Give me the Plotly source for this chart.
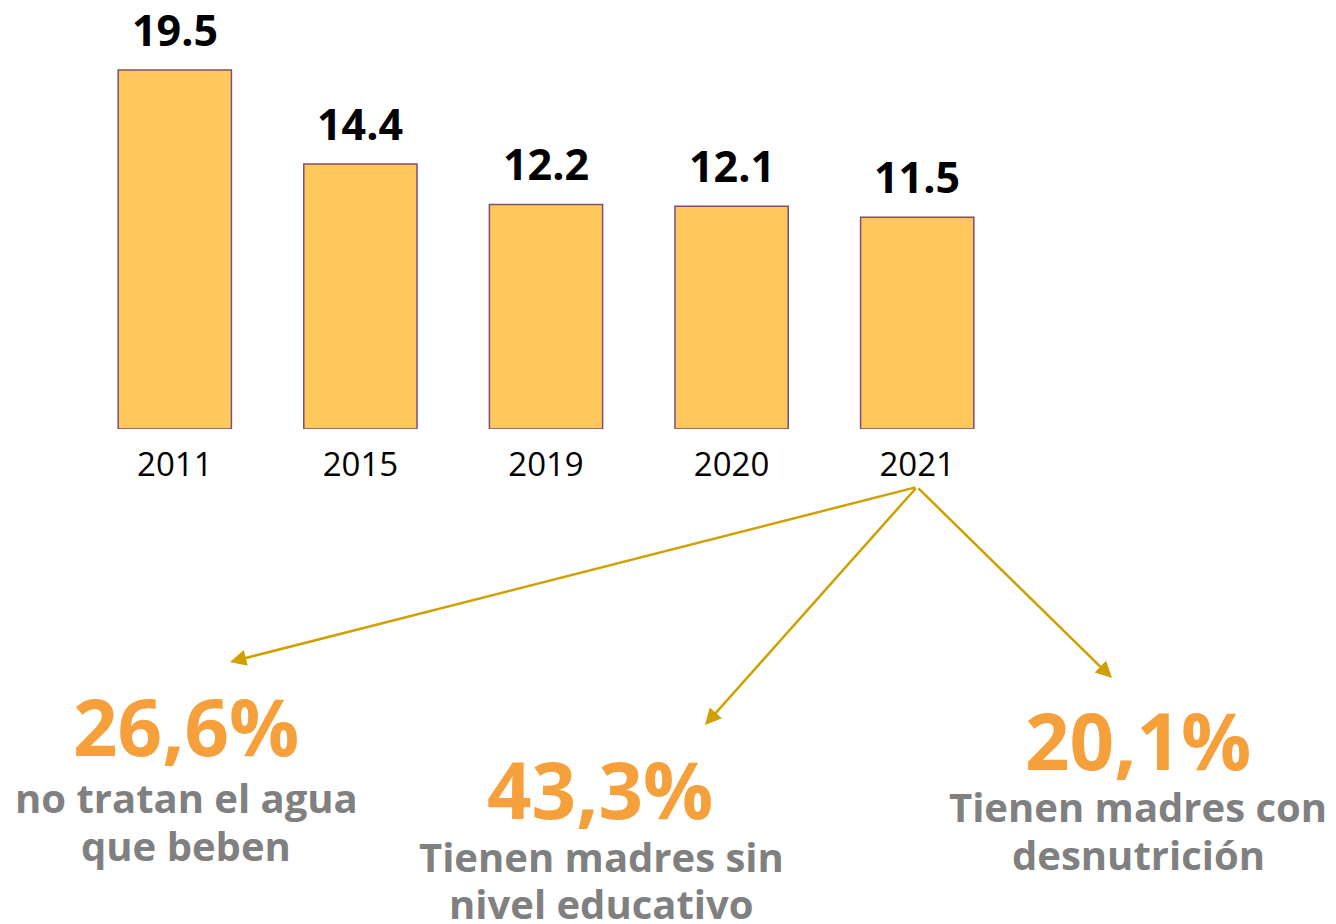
import plotly.graph_objects as go

years = ["2011", "2015", "2019", "2020", "2021"]
values = [19.5, 14.4, 12.2, 12.1, 11.5]

stat_values = ["26,6%", "43,3%", "20,1%"]
stat_labels = [["no tratan el agua", "que beben"],
               ["Tienen madres sin", "nivel educativo"],
               ["Tienen madres con", "desnutrición"]]

W, H = 1336, 924
L, R, T, B = 82, 326, 6, 495
PW, PH = W - L - R, H - T - B
FONT = "Open Sans"

def px(x):
    return (x - L) / PW

def py(y):
    return (H - B - y) / PH

fig = go.Figure()
fig.add_trace(go.Bar(
    x=years, y=values, width=0.61,
    marker=dict(color="#FFC85C", line=dict(color="#7E4E72", width=1.5)),
    hoverinfo="skip",
))

ann = []
for i, v in enumerate(values):
    ann.append(dict(x=i, y=v, xref="x", yref="y", text=f"<b>{v}</b>",
                    showarrow=False, yanchor="bottom", yshift=9,
                    font=dict(family=FONT, size=43, color="#000000")))

# arrows from 2021 label
tail = (917, 487)
heads = [(230, 662), (705, 725), (1112, 678)]
for hx, hy in heads:
    ann.append(dict(x=px(hx), y=py(hy), xref="paper", yref="paper",
                    ax=tail[0] - hx, ay=tail[1] - hy, axref="pixel", ayref="pixel",
                    showarrow=True, arrowhead=2, arrowsize=1.3, arrowwidth=2.5,
                    arrowcolor="#D0A000", text=""))

big_pos = [(186, 726), (600, 789), (1138, 740)]
lab_pos = [(186, 797, 845), (601, 856, 903), (1138, 806, 854)]
for s, (x, y) in zip(stat_values, big_pos):
    ann.append(dict(x=px(x), y=py(y), xref="paper", yref="paper", text=f"<b>{s}</b>",
                    showarrow=False, xanchor="center", yanchor="middle",
                    font=dict(family=FONT, size=78, color="#F5A03A")))
for lines, (x, y1, y2) in zip(stat_labels, lab_pos):
    for s, y in zip(lines, (y1, y2)):
        ann.append(dict(x=px(x), y=py(y), xref="paper", yref="paper", text=f"<b>{s}</b>",
                        showarrow=False, xanchor="center", yanchor="middle",
                        font=dict(family=FONT, size=40, color="#808080")))

fig.update_layout(
    width=W, height=H,
    margin=dict(l=L, r=R, t=T, b=B, autoexpand=False),
    paper_bgcolor="white", plot_bgcolor="white",
    showlegend=False,
    annotations=ann,
    xaxis=dict(type="category", range=[-0.5, 4.5], showgrid=False, showline=False,
               zeroline=False, ticks="", ticklabelstandoff=13,
               tickfont=dict(family=FONT, size=33, color="#000000")),
    yaxis=dict(range=[0, PH / 18.41], visible=False, showgrid=False, zeroline=False),
)

fig.write_html("out.html", config={"displayModeBar": False},
               post_script="document.body.style.margin='0';document.body.style.overflow='hidden';")
